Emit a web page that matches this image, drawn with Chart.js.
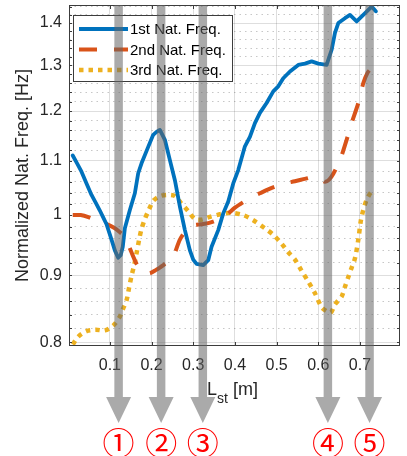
<!DOCTYPE html>
<html>
<head>
<meta charset="utf-8">
<title>Natural frequency vs stiffener length</title>
<script src="https://cdn.jsdelivr.net/npm/chart.js@4.4.1/dist/chart.umd.min.js"></script>
<style>
  html, body { margin: 0; padding: 0; background: #fff; }
</style>
</head>
<body>
<canvas id="freqChart" width="407" height="456"></canvas>
<script>
// stiffener length L_st [m] and normalised natural frequency of each mode
var lst1 = [0.011, 0.022, 0.032, 0.044, 0.056, 0.066, 0.076, 0.084, 0.092, 0.104,
            0.112, 0.120, 0.126, 0.131, 0.136, 0.148, 0.160, 0.168, 0.176, 0.192,
            0.204, 0.212, 0.220, 0.232, 0.244, 0.256, 0.268, 0.280, 0.292, 0.300,
            0.308, 0.324, 0.336, 0.344, 0.360, 0.372, 0.384, 0.396, 0.408, 0.424,
            0.436, 0.448, 0.460, 0.476, 0.492, 0.504, 0.516, 0.532, 0.552, 0.568,
            0.584, 0.600, 0.620, 0.632, 0.640, 0.648, 0.664, 0.676, 0.692, 0.708,
            0.728, 0.738];
var freq1 = [1.110, 1.094, 1.079, 1.057, 1.036, 1.022, 1.008, 0.996, 0.984, 0.958,
             0.940, 0.928, 0.932, 0.946, 0.977, 1.009, 1.039, 1.076, 1.095, 1.127,
             1.151, 1.157, 1.161, 1.141, 1.101, 1.063, 1.015, 0.974, 0.940, 0.925,
             0.918, 0.916, 0.924, 0.946, 0.974, 1.003, 1.024, 1.057, 1.082, 1.128,
             1.147, 1.175, 1.196, 1.217, 1.242, 1.253, 1.271, 1.286, 1.301, 1.304,
             1.309, 1.304, 1.301, 1.336, 1.376, 1.400, 1.412, 1.420, 1.404, 1.420,
             1.441, 1.429];

var lst2 = [0.011, 0.030, 0.050, 0.070, 0.090, 0.110, 0.125, 0.136, 0.150, 0.165,
            0.180, 0.195, 0.210, 0.230, 0.250, 0.268, 0.285, 0.300, 0.318, 0.336,
            0.356, 0.376, 0.400, 0.420, 0.440, 0.460, 0.480, 0.500, 0.520, 0.544,
            0.570, 0.590, 0.605, 0.616, 0.626, 0.636, 0.652, 0.668, 0.680, 0.696,
            0.708, 0.718, 0.728];
var freq2 = [1.000, 1.000, 0.996, 0.990, 0.985, 0.978, 0.970, 0.963, 0.940, 0.917,
             0.905, 0.903, 0.908, 0.917, 0.927, 0.958, 0.975, 0.982, 0.984, 0.986,
             0.991, 0.998, 1.013, 1.023, 1.032, 1.039, 1.046, 1.052, 1.057, 1.061,
             1.066, 1.069, 1.066, 1.060, 1.064, 1.075, 1.101, 1.141, 1.175, 1.217,
             1.260, 1.283, 1.294];

var lst3 = [0.011, 0.024, 0.044, 0.066, 0.088, 0.108, 0.124, 0.132, 0.140, 0.146,
            0.152, 0.158, 0.164, 0.170, 0.176, 0.184, 0.194, 0.204, 0.218, 0.236,
            0.256, 0.270, 0.288, 0.304, 0.320, 0.336, 0.368, 0.392, 0.420, 0.444,
            0.472, 0.492, 0.512, 0.528, 0.544, 0.560, 0.576, 0.592, 0.608, 0.620,
            0.630, 0.640, 0.656, 0.664, 0.672, 0.680, 0.688, 0.696, 0.702, 0.708,
            0.716, 0.728, 0.736];
var freq3 = [0.797, 0.808, 0.816, 0.818, 0.817, 0.824, 0.837, 0.849, 0.861, 0.880,
             0.899, 0.915, 0.935, 0.957, 0.976, 0.993, 1.010, 1.025, 1.033, 1.036,
             1.034, 1.022, 1.007, 0.993, 0.992, 0.996, 1.002, 1.004, 1.000, 0.991,
             0.977, 0.966, 0.951, 0.937, 0.925, 0.907, 0.890, 0.872, 0.851, 0.845,
             0.843, 0.855, 0.867, 0.882, 0.897, 0.912, 0.927, 0.958, 0.990, 1.009,
             1.027, 1.042, 1.040];

var seriesNames = ['1st Nat. Freq.', '2nd Nat. Freq.', '3rd Nat. Freq.'];
var xTicks = [0.1, 0.2, 0.3, 0.4, 0.5, 0.6, 0.7];
var xTickLabels = ['0.1', '0.2', '0.3', '0.4', '0.5', '0.6', '0.7'];
var yTicks = [0.8, 0.9, 1, 1.1, 1.2, 1.3, 1.4];
var yTickLabels = ['0.8', '0.9', '1', '1.1', '1.2', '1.3', '1.4'];

// marked stiffener lengths (arrows below the axis)
var markLst = [0.121, 0.223, 0.323, 0.623, 0.723];
var markLabels = ['\u2460', '\u2461', '\u2462', '\u2463', '\u2464'];

var FONT = '"Liberation Sans", Arial, Helvetica, sans-serif';

// minor grid every 0.02 on the log axis
var yGrid = [];
for (var k = 40; k <= 72; k++) yGrid.push(Math.round(k * 2) / 100);

function isMajorY(v) {
  return yTicks.some(function (t) { return Math.abs(t - v) < 1e-6; });
}

function pairs(xs, ys) {
  return xs.map(function (x, i) { return { x: x, y: ys[i] }; });
}

var frame = {
  id: 'frame',
  afterDatasetsDraw: function (chart) {
    var c = chart.ctx, a = chart.chartArea;
    var xs = chart.scales.x, ys = chart.scales.y;
    c.save();

    // box and inward tick marks
    c.strokeStyle = '#3c3c3c';
    c.lineWidth = 1;
    c.beginPath();
    yGrid.forEach(function (v) {
      var y = Math.round(ys.getPixelForValue(v)) + 0.5;
      if (y < a.top + 2 || y > a.bottom - 2) return;
      c.moveTo(a.left, y); c.lineTo(a.left + 3, y);
      c.moveTo(a.right, y); c.lineTo(a.right - 3, y);
    });
    xTicks.forEach(function (v) {
      var x = Math.round(xs.getPixelForValue(v)) + 0.5;
      c.moveTo(x, a.bottom); c.lineTo(x, a.bottom - 4);
      c.moveTo(x, a.top); c.lineTo(x, a.top + 4);
    });
    c.stroke();
    c.strokeRect(Math.round(a.left) + 0.5, Math.round(a.top) + 0.5,
                 Math.round(a.right - a.left) - 1, Math.round(a.bottom - a.top) - 1);

    // legend, top left inside the axes
    var lx = a.left + 4, ly = a.top + 10, lw = 159, lh = 66;
    c.fillStyle = '#fff';
    c.fillRect(lx, ly, lw, lh);
    c.strokeStyle = '#3c3c3c';
    c.strokeRect(lx + 0.5, ly + 0.5, lw, lh);
    chart.data.datasets.forEach(function (ds, i) {
      var y = ly + 14 + i * 20.5;
      c.save();
      c.strokeStyle = ds.borderColor;
      c.lineWidth = ds.borderWidth;
      c.lineCap = 'butt';
      c.setLineDash(ds.borderDash || []);
      c.beginPath();
      c.moveTo(lx + 6, y);
      c.lineTo(lx + 55, y);
      c.stroke();
      c.restore();
      c.fillStyle = '#000';
      c.font = '15px ' + FONT;
      c.textAlign = 'left';
      c.textBaseline = 'middle';
      c.fillText(ds.label, lx + 57, y + 1);
    });
    c.restore();
  },
  afterDraw: function (chart) {
    var c = chart.ctx, a = chart.chartArea, xs = chart.scales.x;
    c.save();

    // x axis title: L_st [m]
    var cx = (a.left + a.right) / 2;
    var base = 395;
    c.fillStyle = '#262626';
    c.textBaseline = 'alphabetic';
    c.textAlign = 'left';
    c.font = '18px ' + FONT;
    var wL = c.measureText('L').width;
    var wUnit = c.measureText(' [m]').width;
    c.font = '14px ' + FONT;
    var wSub = c.measureText('st').width;
    var x0 = cx - (wL + wSub + wUnit) / 2 - 2;
    c.font = '18px ' + FONT;
    c.fillText('L', x0, base);
    c.font = '14px ' + FONT;
    c.fillText('st', x0 + wL, base + 8);
    c.font = '18px ' + FONT;
    c.fillText(' [m]', x0 + wL + wSub, base);

    // translucent arrows through the plot
    var shaftEnd = 397, tip = 423, half = 4.25, head = 12.5;
    c.fillStyle = 'rgba(100,100,100,0.55)';
    markLst.forEach(function (v) {
      var x = xs.getPixelForValue(v);
      c.beginPath();
      c.moveTo(x - half, a.top);
      c.lineTo(x + half, a.top);
      c.lineTo(x + half, shaftEnd);
      c.lineTo(x + head, shaftEnd);
      c.lineTo(x, tip);
      c.lineTo(x - head, shaftEnd);
      c.lineTo(x - half, shaftEnd);
      c.closePath();
      c.fill();
    });

    // circled case numbers
    c.fillStyle = '#f00';
    c.font = '32px "Noto Sans CJK JP", sans-serif';
    c.textAlign = 'center';
    c.textBaseline = 'middle';
    markLst.forEach(function (v, i) {
      c.fillText(markLabels[i], xs.getPixelForValue(v), 443);
    });
    c.restore();
  }
};

var ctx = document.getElementById('freqChart');
var chart = new Chart(ctx, {
  type: 'line',
  data: {
    datasets: [
      {
        label: seriesNames[0],
        data: pairs(lst1, freq1),
        borderColor: '#0072BD',
        borderWidth: 3.8,
        borderJoinStyle: 'round',
        borderCapStyle: 'round',
        pointRadius: 0,
        tension: 0
      },
      {
        label: seriesNames[1],
        data: pairs(lst2, freq2),
        borderColor: '#D95319',
        borderWidth: 4,
        borderDash: [18, 17],
        pointRadius: 0,
        tension: 0.3
      },
      {
        label: seriesNames[2],
        data: pairs(lst3, freq3),
        borderColor: '#EDB120',
        borderWidth: 4.5,
        borderDash: [4.5, 5],
        pointRadius: 0,
        tension: 0.3
      }
    ]
  },
  options: {
    responsive: false,
    animation: false,
    devicePixelRatio: 1,
    layout: { padding: { top: 5, right: 7, left: 0, bottom: 0 } },
    plugins: {
      legend: { display: false },
      tooltip: { enabled: false }
    },
    scales: {
      x: {
        type: 'linear',
        min: 0.002,
        max: 0.796,
        afterBuildTicks: function (s) {
          s.ticks = xTicks.map(function (v) { return { value: v }; });
        },
        afterFit: function (s) {
          s.height = 110;
          s.paddingLeft = 0; s.paddingRight = 0;
        },
        grid: { color: 'rgba(0,0,0,0.13)', lineWidth: 1, drawTicks: false },
        border: { display: false },
        ticks: {
          autoSkip: false,
          maxRotation: 0,
          padding: 10,
          color: '#262626',
          font: { family: FONT, size: 16 },
          callback: function (v) {
            var i = xTicks.findIndex(function (t) { return Math.abs(t - v) < 1e-6; });
            return i >= 0 ? xTickLabels[i] : '';
          }
        }
      },
      y: {
        type: 'logarithmic',
        min: 0.795,
        max: 1.445,
        afterBuildTicks: function (s) {
          s.ticks = yGrid.map(function (v) { return { value: v }; });
        },
        afterFit: function (s) {
          s.width = 69;
          s.paddingTop = 0; s.paddingBottom = 0;
        },
        grid: {
          drawTicks: false,
          lineWidth: 1,
          color: function (c) {
            if (!c.tick) return 'rgba(0,0,0,0.13)';
            return isMajorY(c.tick.value) ? 'rgba(0,0,0,0.13)' : 'rgba(0,0,0,0.22)';
          }
        },
        border: {
          display: false,
          dash: function (c) {
            if (!c.tick || isMajorY(c.tick.value)) return [];
            return [1.5, 4];
          }
        },
        ticks: {
          autoSkip: false,
          padding: 7,
          color: '#262626',
          font: { family: FONT, size: 16 },
          callback: function (v) {
            var i = yTicks.findIndex(function (t) { return Math.abs(t - v) < 1e-6; });
            return i >= 0 ? yTickLabels[i] : '';
          }
        },
        title: {
          display: true,
          text: 'Normalized Nat. Freq. [Hz]',
          color: '#262626',
          font: { family: FONT, size: 18 },
          padding: { top: 12, bottom: 0 }
        }
      }
    }
  },
  plugins: [frame]
});
</script>
</body>
</html>
